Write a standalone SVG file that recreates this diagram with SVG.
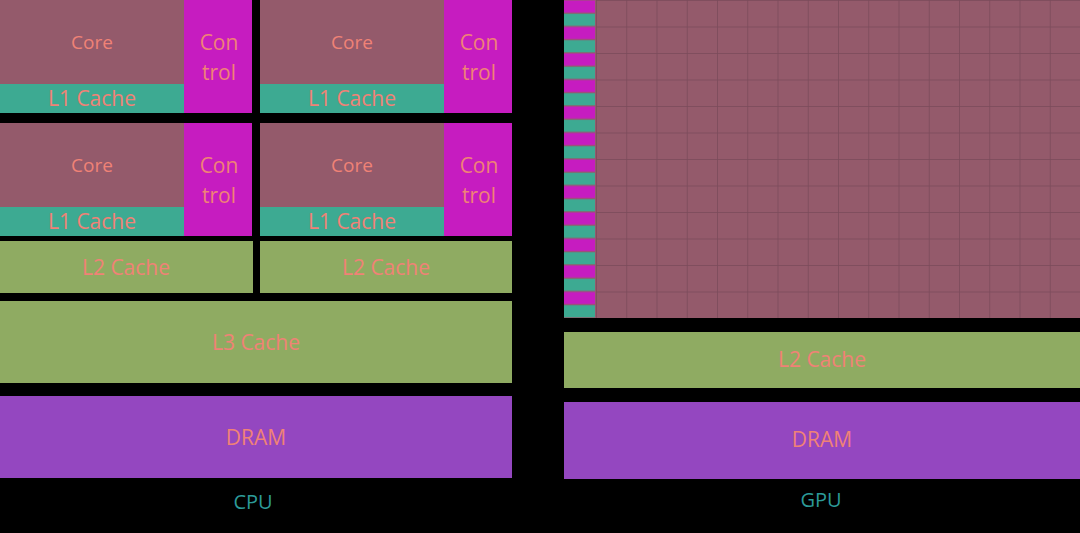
<svg xmlns="http://www.w3.org/2000/svg" width="1080" height="533" viewBox="0 0 1080 533">
<style>
.core{fill:#945a6b}.l1{fill:#3daa92}.ctl{fill:#c61cc0}.gr{fill:#8fab62}.dr{fill:#9447c0}
.t{font-family:"Open Sans","Liberation Sans",sans-serif;fill:#f08276;text-anchor:middle}
.s{font-size:19px}.m{font-size:21px}
.lab{font-family:"Open Sans","Liberation Sans",sans-serif;fill:#2c9a98;font-size:20px;text-anchor:middle}
</style>
<defs>
<g id="blk">
<rect class="core" x="0" y="0" width="184" height="84"/>
<rect class="l1" x="0" y="84" width="184" height="29"/>
<rect class="ctl" x="184" y="0" width="68" height="113"/>
<text class="t s" x="92" y="49">Core</text>
<text class="t m" x="92" y="106">L1 Cache</text>
<text class="t m" x="219" y="50">Con</text>
<text class="t m" x="219" y="80">trol</text>
</g>
<pattern id="grid" x="596" y="0" width="30.25" height="26.5" patternUnits="userSpaceOnUse">
<rect width="30.25" height="26.5" fill="#945a6b"/>
<path d="M0 0V26.5M0 0H30.25" stroke="#7a4a5a" stroke-width="1.5" fill="none"/>
</pattern>
<pattern id="strip" x="564" y="0" width="32" height="26.5" patternUnits="userSpaceOnUse">
<rect width="32" height="26.5" fill="#945a6b"/>
<rect x="0" y="0.5" width="31" height="12" fill="#c61cc0"/>
<rect x="0" y="13.8" width="31" height="12" fill="#3daa92"/>
</pattern>
</defs>
<rect width="1080" height="533" fill="#000"/>
<g id="cpu-core1"><use href="#blk" x="0" y="0"/></g>
<g id="cpu-core2"><use href="#blk" x="260" y="0"/></g>
<g id="cpu-core3"><use href="#blk" x="0" y="123"/></g>
<g id="cpu-core4"><use href="#blk" x="260" y="123"/></g>
<g id="cpu-l2a"><rect class="gr" x="0" y="241" width="253" height="52"/><text class="t m" x="126" y="275">L2 Cache</text></g>
<g id="cpu-l2b"><rect class="gr" x="260" y="241" width="252" height="52"/><text class="t m" x="386" y="275">L2 Cache</text></g>
<g id="cpu-l3"><rect class="gr" x="0" y="301" width="512" height="82"/><text class="t m" x="256" y="350">L3 Cache</text></g>
<g id="cpu-dram"><rect class="dr" x="0" y="396" width="512" height="82"/><text class="t m" x="256" y="445">DRAM</text></g>
<text class="lab" x="253" y="509">CPU</text>
<g id="gpu-cores"><rect x="564" y="0" width="32" height="318" fill="url(#strip)"/><rect x="596" y="0" width="484" height="318" fill="url(#grid)"/></g>
<g id="gpu-l2"><rect class="gr" x="564" y="332" width="516" height="56"/><text class="t m" x="822" y="367">L2 Cache</text></g>
<g id="gpu-dram"><rect class="dr" x="564" y="402" width="516" height="77"/><text class="t m" x="822" y="447">DRAM</text></g>
<text class="lab" x="821" y="507">GPU</text>
<g id="connectors"/>
</svg>
